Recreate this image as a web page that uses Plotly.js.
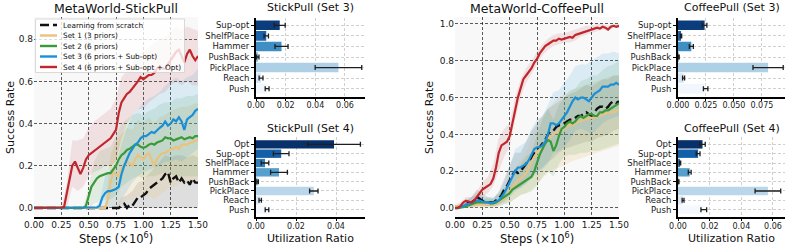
<!DOCTYPE html>
<html>
<head>
<meta charset="utf-8">
<script src="https://cdn.plot.ly/plotly-3.0.1.min.js"></script>
<style>html,body{margin:0;padding:0;background:#fff;}#chart{width:789px;height:248px;}</style>
</head>
<body>
<div id="chart"></div>
<script>
// ---------- DATA ----------
const seriesNames = ['Learning from scratch', 'Set 1 (3 priors)', 'Set 2 (6 priors)', 'Set 3 (6 priors + Sub-opt)', 'Set 4 (6 priors + Sub-opt + Opt)'];

const steps = [0,0.025,0.05,0.075,0.1,0.125,0.15,0.175,0.2,0.225,0.25,0.275,0.3,0.325,0.35,0.375,0.4,0.425,0.45,0.475,0.5,0.525,0.55,0.575,0.6,0.625,0.65,0.675,0.7,0.725,0.75,0.775,0.8,0.825,0.85,0.875,0.9,0.925,0.95,0.975,1.0,1.025,1.05,1.075,1.1,1.125,1.15,1.175,1.2,1.225,1.25,1.275,1.3,1.325,1.35,1.375,1.4,1.425,1.45,1.475,1.5];
const bandSteps = [0,0.05,0.1,0.15,0.2,0.25,0.3,0.35,0.4,0.45,0.5,0.55,0.6,0.65,0.7,0.75,0.8,0.85,0.9,0.95,1.0,1.05,1.1,1.15,1.2,1.25,1.3,1.35,1.4,1.45,1.5];

// StickPull mean curves
const stickScratch = [0,0,0,0,0,0,0,0,0,0,0,0,0,0,0,0,0,0,0,0,0,0,0,0,0,0,0,0,0,0,0,0,0.01,0.02,0.0,0.015,0.01,0.03,0.05,0.05,0.06,0.07,0.09,0.1,0.11,0.12,0.13,0.14,0.16,0.17,0.12,0.14,0.15,0.12,0.14,0.12,0.13,0.11,0.14,0.12,0.12];
const stickSet1 = [0,0,0,0,0,0,0,0,0,0,0,0,0,0,0,0,0,0,0,0,0,0,0,0,0,0,0,0.04,0.12,0.17,0.16,0.15,0.19,0.2,0.22,0.21,0.2,0.23,0.25,0.24,0.23,0.25,0.26,0.23,0.2,0.23,0.25,0.26,0.26,0.27,0.28,0.28,0.29,0.28,0.3,0.3,0.3,0.31,0.31,0.32,0.32];
const stickSet2 = [0,0,0,0,0,0,0,0,0,0,0,0,0,0,0,0,0,0,0,0.01,0.05,0.1,0.12,0.14,0.15,0.155,0.16,0.165,0.165,0.18,0.2,0.23,0.25,0.26,0.275,0.28,0.29,0.3,0.3,0.29,0.285,0.29,0.3,0.305,0.3,0.31,0.315,0.32,0.335,0.33,0.33,0.32,0.325,0.33,0.335,0.325,0.33,0.335,0.33,0.34,0.34];
const stickSet3 = [0,0,0,0,0,0,0,0,0,0,0,0,0,0,0,0,0,0,0,0,0,0,0,0.002,0.01,0.05,0.07,0.08,0.08,0.085,0.09,0.1,0.16,0.2,0.23,0.26,0.28,0.3,0.31,0.33,0.34,0.34,0.35,0.36,0.355,0.37,0.38,0.39,0.41,0.39,0.4,0.42,0.41,0.43,0.41,0.37,0.42,0.43,0.44,0.46,0.47];
const stickSet4 = [0,0,0,0.002,0.001,0,0.002,0.002,0.001,0,0.002,0.004,0.07,0.15,0.2,0.22,0.19,0.16,0.19,0.23,0.25,0.26,0.27,0.28,0.29,0.3,0.31,0.32,0.33,0.35,0.37,0.45,0.5,0.52,0.54,0.55,0.565,0.58,0.6,0.62,0.61,0.62,0.63,0.63,0.64,0.66,0.67,0.66,0.66,0.68,0.7,0.72,0.74,0.75,0.72,0.69,0.73,0.75,0.72,0.7,0.72];

// StickPull bands (lower / upper)
const stickScratchLo = [0,0,0,0,0,0,0,0,0,0,0,0,0,0,0,0,0,0,0,0,0,0,0,0,0,0,0,0,0,0,0];
const stickScratchHi = [0,0,0,0,0,0,0,0,0,0,0,0,0,0,0,0,0.05,0.06,0.08,0.12,0.13,0.16,0.19,0.22,0.25,0.24,0.25,0.25,0.24,0.25,0.24];
const stickSet1Lo = [0,0,0,0,0,0,0,0,0,0,0,0,0,0,0,0,0.02,0.04,0.04,0.06,0.05,0.06,0.04,0.06,0.08,0.1,0.1,0.12,0.12,0.13,0.14];
const stickSet1Hi = [0,0,0,0,0,0,0,0,0,0,0,0,0,0,0.25,0.32,0.35,0.38,0.37,0.42,0.4,0.43,0.4,0.43,0.44,0.46,0.47,0.48,0.48,0.49,0.5];
const stickSet2Lo = [0,0,0,0,0,0,0,0,0,0,0,0.02,0.03,0.04,0.04,0.06,0.1,0.12,0.14,0.15,0.14,0.15,0.15,0.16,0.17,0.16,0.15,0.15,0.15,0.15,0.15];
const stickSet2Hi = [0,0,0,0,0,0,0,0,0,0,0.1,0.22,0.27,0.28,0.29,0.34,0.4,0.42,0.44,0.45,0.44,0.46,0.47,0.49,0.5,0.5,0.52,0.52,0.53,0.53,0.54];
const stickSet3Lo = [0,0,0,0,0,0,0,0,0,0,0,0,0,0,0,0,0.04,0.08,0.12,0.15,0.17,0.18,0.19,0.2,0.22,0.22,0.23,0.22,0.24,0.26,0.28];
const stickSet3Hi = [0,0,0,0,0,0,0,0,0,0,0,0,0.03,0.15,0.18,0.2,0.3,0.38,0.44,0.47,0.5,0.52,0.53,0.55,0.58,0.6,0.62,0.6,0.62,0.63,0.66];
const stickSet4Lo = [0,0,0,0,0,0,0,0.1,0.08,0.1,0.15,0.17,0.18,0.2,0.2,0.22,0.33,0.4,0.44,0.47,0.47,0.5,0.52,0.54,0.55,0.58,0.6,0.58,0.6,0.58,0.58];
const stickSet4Hi = [0,0,0,0,0,0,0.12,0.32,0.32,0.33,0.38,0.41,0.43,0.45,0.47,0.52,0.62,0.65,0.69,0.72,0.74,0.76,0.78,0.8,0.81,0.83,0.86,0.84,0.86,0.85,0.84];

// CoffeePull mean curves
const coffeeScratch = [0,0,0.005,0.01,0.02,0.03,0.03,0.04,0.06,0.05,0.04,0.03,0.03,0.03,0.03,0.04,0.05,0.07,0.1,0.12,0.15,0.18,0.2,0.19,0.2,0.22,0.24,0.26,0.27,0.3,0.32,0.33,0.35,0.37,0.4,0.42,0.42,0.44,0.45,0.45,0.46,0.47,0.48,0.48,0.49,0.5,0.5,0.51,0.52,0.51,0.5,0.52,0.54,0.55,0.55,0.54,0.55,0.57,0.58,0.57,0.58];
const coffeeSet1 = [0.01,0.01,0.01,0.01,0.015,0.02,0.02,0.02,0.02,0.02,0.02,0.02,0.02,0.02,0.02,0.025,0.03,0.04,0.05,0.07,0.09,0.11,0.13,0.15,0.16,0.17,0.19,0.22,0.25,0.28,0.3,0.32,0.34,0.36,0.37,0.39,0.4,0.41,0.42,0.43,0.43,0.44,0.45,0.45,0.46,0.47,0.47,0.48,0.48,0.49,0.49,0.49,0.5,0.5,0.51,0.51,0.52,0.52,0.52,0.53,0.53];
const coffeeSet2 = [0,0,0.003,0.005,0.01,0.015,0.02,0.025,0.03,0.03,0.03,0.03,0.03,0.025,0.025,0.03,0.04,0.05,0.06,0.07,0.08,0.1,0.11,0.12,0.13,0.14,0.15,0.16,0.17,0.2,0.25,0.29,0.32,0.35,0.37,0.36,0.31,0.34,0.39,0.43,0.44,0.46,0.47,0.46,0.47,0.49,0.5,0.49,0.5,0.51,0.51,0.5,0.5,0.52,0.52,0.53,0.53,0.54,0.55,0.56,0.57];
const coffeeSet3 = [0,0,0.005,0.01,0.02,0.02,0.03,0.035,0.04,0.04,0.035,0.03,0.03,0.025,0.03,0.035,0.04,0.06,0.08,0.11,0.14,0.17,0.2,0.22,0.22,0.23,0.24,0.26,0.29,0.32,0.33,0.33,0.34,0.36,0.4,0.46,0.46,0.45,0.46,0.48,0.5,0.52,0.55,0.58,0.6,0.59,0.6,0.6,0.59,0.58,0.6,0.62,0.63,0.64,0.66,0.66,0.66,0.67,0.67,0.68,0.67];
const coffeeSet4 = [0,0,0.01,0.03,0.04,0.035,0.03,0.04,0.06,0.08,0.1,0.11,0.12,0.13,0.16,0.22,0.3,0.34,0.35,0.36,0.39,0.46,0.54,0.6,0.65,0.7,0.72,0.74,0.76,0.79,0.81,0.84,0.86,0.88,0.89,0.9,0.91,0.91,0.92,0.915,0.92,0.925,0.93,0.925,0.94,0.945,0.95,0.955,0.96,0.965,0.97,0.975,0.98,0.975,0.985,0.98,0.97,0.985,0.99,0.985,0.99];

// CoffeePull bands (lower / upper)
const coffeeScratchLo = [0,0,0,0,0.01,0.01,0.01,0.01,0.02,0.04,0.07,0.1,0.11,0.14,0.17,0.2,0.22,0.25,0.27,0.3,0.32,0.33,0.34,0.35,0.36,0.36,0.38,0.39,0.4,0.42,0.43];
const coffeeScratchHi = [0.01,0.02,0.04,0.06,0.1,0.08,0.06,0.05,0.09,0.16,0.23,0.3,0.3,0.36,0.42,0.46,0.5,0.54,0.56,0.58,0.6,0.62,0.63,0.65,0.67,0.66,0.68,0.7,0.7,0.72,0.72];
const coffeeSet1Lo = [0,0,0,0,0,0,0,0,0.01,0.02,0.03,0.05,0.07,0.08,0.1,0.13,0.16,0.19,0.21,0.22,0.23,0.25,0.26,0.27,0.28,0.29,0.3,0.31,0.32,0.33,0.34];
const coffeeSet1Hi = [0.02,0.03,0.04,0.04,0.04,0.04,0.04,0.04,0.05,0.08,0.15,0.22,0.26,0.3,0.38,0.45,0.5,0.54,0.57,0.6,0.62,0.63,0.65,0.66,0.67,0.68,0.69,0.7,0.71,0.72,0.72];
const coffeeSet2Lo = [0,0,0,0.01,0.01,0.01,0.01,0.01,0.01,0.02,0.03,0.05,0.07,0.08,0.09,0.12,0.17,0.2,0.17,0.24,0.28,0.29,0.29,0.3,0.3,0.31,0.31,0.32,0.33,0.34,0.35];
const coffeeSet2Hi = [0.01,0.01,0.02,0.04,0.05,0.05,0.05,0.05,0.08,0.11,0.14,0.2,0.24,0.28,0.3,0.4,0.48,0.54,0.48,0.56,0.6,0.64,0.65,0.69,0.7,0.72,0.72,0.75,0.77,0.78,0.8];
const coffeeSet3Lo = [0,0,0.01,0.01,0.02,0.02,0.01,0.01,0.02,0.03,0.06,0.09,0.11,0.13,0.16,0.19,0.21,0.24,0.3,0.31,0.33,0.37,0.42,0.43,0.42,0.4,0.43,0.46,0.48,0.49,0.5];
const coffeeSet3Hi = [0.01,0.02,0.04,0.06,0.07,0.06,0.06,0.06,0.08,0.14,0.23,0.32,0.34,0.36,0.43,0.48,0.5,0.56,0.63,0.64,0.68,0.72,0.77,0.78,0.78,0.8,0.82,0.84,0.84,0.85,0.84];
const coffeeSet4Lo = [0,0,0.02,0.01,0.03,0.06,0.08,0.12,0.2,0.28,0.33,0.48,0.6,0.68,0.73,0.78,0.83,0.86,0.88,0.89,0.9,0.9,0.91,0.93,0.94,0.95,0.96,0.97,0.96,0.98,0.98];
const coffeeSet4Hi = [0.01,0.03,0.06,0.06,0.09,0.14,0.17,0.24,0.38,0.43,0.46,0.6,0.7,0.76,0.8,0.85,0.89,0.92,0.94,0.95,0.95,0.96,0.97,0.98,0.99,0.99,1.0,1.0,0.99,1.0,1.0];

// Utilization bars
const set3Priors = ['Sup-opt', 'ShelfPlace', 'Hammer', 'PushBack', 'PickPlace', 'Reach', 'Push'];
const set4Priors = ['Opt', 'Sup-opt', 'ShelfPlace', 'Hammer', 'PushBack', 'PickPlace', 'Reach', 'Push'];
const stickSet3Util = [0.016, 0.0069, 0.0172, 0.0012, 0.0556, 0.0034, 0.0075];
const stickSet3Err  = [0.0037, 0.0015, 0.0044, 0.0008, 0.0157, 0.0013, 0.0013];
const stickSet4Util = [0.039, 0.0126, 0.0045, 0.0115, 0.0008, 0.0289, 0.0021, 0.0055];
const stickSet4Err  = [0.0132, 0.0039, 0.0019, 0.0042, 0.0004, 0.0021, 0.0006, 0.0009];
const coffeeSet3Util = [0.0238, 0.0027, 0.0119, 0.0008, 0.0805, 0.005, 0.0247];
const coffeeSet3Err  = [0.0020, 0.0006, 0.0018, 0.0003, 0.0135, 0.0009, 0.0020];
const coffeeSet4Util = [0.0155, 0.0127, 0.0013, 0.0074, 0.0004, 0.0568, 0.0032, 0.0163];
const coffeeSet4Err  = [0.0017, 0.0012, 0.0004, 0.0009, 0.0002, 0.0081, 0.0006, 0.0018];

// ---------- STYLE ----------
const FONT = 'DejaVu Sans, Liberation Sans, sans-serif';
const lineColors = ['#111111', '#eac27f', '#3a9a3a', '#1a8fd8', '#c0272d'];
const bandColors = ['rgba(0,0,0,0.10)', 'rgba(234,194,127,0.22)', 'rgba(58,154,58,0.13)', 'rgba(26,143,216,0.13)', 'rgba(192,39,45,0.11)'];
const set3Colors = ['#0b3c7b', '#1a62aa', '#3f8fc5', '#74b3d8', '#aed0e7', '#d8e7f5', '#f1f7fd'];
const set4Colors = ['#08306b', '#1460a8', '#2f7ebc', '#56a0cd', '#8cbfdd', '#bad6eb', '#dbe9f6', '#f5f9fe'];

const W = 789, H = 248;
const px = v => v / W;
const py = v => 1 - v / H;

function bandTrace(lo, hi, color, xa, ya) {
  return {
    x: bandSteps.concat(bandSteps.slice().reverse()),
    y: hi.concat(lo.slice().reverse()),
    type: 'scatter', mode: 'lines', fill: 'toself', fillcolor: color,
    line: {width: 0, color: color}, hoverinfo: 'skip', showlegend: false,
    xaxis: xa, yaxis: ya
  };
}
function lineTrace(ys, i, xa, ya) {
  return {
    x: steps, y: ys, type: 'scatter', mode: 'lines', name: seriesNames[i],
    line: {color: lineColors[i], width: i === 0 ? 2.4 : 2.2, dash: i === 0 ? '9px,4px' : 'solid'},
    showlegend: false, xaxis: xa, yaxis: ya
  };
}
function barTrace(labels, vals, errs, colors, xa, ya) {
  return {
    type: 'bar', orientation: 'h', y: labels, x: vals,
    marker: {color: colors, line: {width: 0}},
    error_x: {type: 'data', array: errs, visible: true, color: '#1e1e1e', thickness: 1.3, width: 2.5},
    showlegend: false, xaxis: xa, yaxis: ya
  };
}

const stickMeans = [stickScratch, stickSet1, stickSet2, stickSet3, stickSet4];
const stickLos = [stickScratchLo, stickSet1Lo, stickSet2Lo, stickSet3Lo, stickSet4Lo];
const stickHis = [stickScratchHi, stickSet1Hi, stickSet2Hi, stickSet3Hi, stickSet4Hi];
const coffeeMeans = [coffeeScratch, coffeeSet1, coffeeSet2, coffeeSet3, coffeeSet4];
const coffeeLos = [coffeeScratchLo, coffeeSet1Lo, coffeeSet2Lo, coffeeSet3Lo, coffeeSet4Lo];
const coffeeHis = [coffeeScratchHi, coffeeSet1Hi, coffeeSet2Hi, coffeeSet3Hi, coffeeSet4Hi];

const data = [];
for (let i = 0; i < 5; i++) data.push(bandTrace(stickLos[i], stickHis[i], bandColors[i], 'x', 'y'));
for (let i = 0; i < 5; i++) data.push(lineTrace(stickMeans[i], i, 'x', 'y'));
for (let i = 0; i < 5; i++) data.push(bandTrace(coffeeLos[i], coffeeHis[i], bandColors[i], 'x4', 'y4'));
for (let i = 0; i < 5; i++) data.push(lineTrace(coffeeMeans[i], i, 'x4', 'y4'));
data.push(barTrace(set3Priors, stickSet3Util, stickSet3Err, set3Colors, 'x2', 'y2'));
data.push(barTrace(set4Priors, stickSet4Util, stickSet4Err, set4Colors, 'x3', 'y3'));
data.push(barTrace(set3Priors, coffeeSet3Util, coffeeSet3Err, set3Colors, 'x5', 'y5'));
data.push(barTrace(set4Priors, coffeeSet4Util, coffeeSet4Err, set4Colors, 'x6', 'y6'));

const lineTickFont = {family: FONT, size: 9, color: '#1a1a1a'};
const barXTickFont = {family: FONT, size: 8, color: '#1a1a1a'};
const barYTickFont = {family: FONT, size: 8.5, color: '#1a1a1a'};
const lineGrid = {showgrid: true, gridcolor: 'rgba(0,0,0,0.8)', gridwidth: 0.8, griddash: '3px,2px', zeroline: false};
const barGrid = {showgrid: true, gridcolor: '#c4c4c4', gridwidth: 0.8, griddash: '3px,2px', zeroline: false};

const lineXDomA = [px(34), px(198)], lineXDomB = [px(455), px(619)];
const lineYDom = [py(217), py(17)];
const barXDomA = [px(256), px(365)], barXDomB = [px(678), px(785)];
const barYDomTop = [py(96.5), py(17.5)], barYDomBot = [py(217), py(137)];

function lineX(dom, anchor) {
  return Object.assign({domain: dom, anchor: anchor, range: [0, 1.5], dtick: 0.25, tick0: 0, tickformat: '.2f', tickangle: 0,
    showline: true, linecolor: '#000', linewidth: 2.2, ticks: '', ticklabelstandoff: -2, tickfont: lineTickFont}, lineGrid);
}
function lineY(dom, anchor, range, dtick) {
  return Object.assign({domain: dom, anchor: anchor, range: range, dtick: dtick, tick0: 0, tickformat: '.1f',
    showline: false, ticks: '', tickfont: lineTickFont}, lineGrid);
}
function barX(dom, anchor, range, dtick, fmt) {
  return Object.assign({domain: dom, anchor: anchor, range: range, dtick: dtick, tick0: 0, tickformat: fmt, tickangle: 0,
    showline: true, linecolor: '#000', linewidth: 2, ticks: 'outside', ticklen: 2, tickcolor: '#000', ticklabelstandoff: -2, tickfont: barXTickFont}, barGrid);
}
function barY(dom, anchor, cats, range) {
  return Object.assign({domain: dom, anchor: anchor, type: 'category', categoryorder: 'array', categoryarray: cats, range: range,
    tickmode: 'array', tickvals: cats, ticktext: cats,
    showline: true, linecolor: '#000', linewidth: 2, ticks: 'outside', ticklen: 3, tickcolor: '#000', tickfont: barYTickFont}, barGrid);
}

const annotations = [];
function ann(text, x, y, size, extra) {
  annotations.push(Object.assign({text: text, x: px(x), y: py(y), xref: 'paper', yref: 'paper', showarrow: false,
    xanchor: 'center', yanchor: 'middle', font: {family: FONT, size: size, color: '#111'}}, extra || {}));
}
ann('MetaWorld-StickPull', 116, 8.5, 12.5);
ann('MetaWorld-CoffeePull', 537, 8.5, 12.5);
ann('StickPull (Set 3)', 310.5, 8, 11);
ann('StickPull (Set 4)', 310.5, 128.5, 11);
ann('CoffeePull (Set 3)', 731.5, 8, 11);
ann('CoffeePull (Set 4)', 731.5, 128.5, 11);
ann('Success Rate', 10, 118, 11, {textangle: -90});
ann('Success Rate', 429, 118, 11, {textangle: -90});
ann('Steps (×10<sup>6</sup>)', 116, 238, 11.5);
ann('Steps (×10<sup>6</sup>)', 537, 238, 11.5);
ann('Utilization Ratio', 310.5, 238.5, 11);
ann('Utilization Ratio', 731.5, 238.5, 11);

// manual legend for the StickPull panel
const shapes = [
  {type: 'rect', xref: 'x domain', yref: 'y domain', x0: 0, x1: 1, y0: 0, y1: 1, fillcolor: '#f8f8f8', line: {width: 0}, layer: 'below'},
  {type: 'rect', xref: 'x4 domain', yref: 'y4 domain', x0: 0, x1: 1, y0: 0, y1: 1, fillcolor: '#f8f8f8', line: {width: 0}, layer: 'below'},
  {type: 'rect', xref: 'paper', yref: 'paper', x0: px(35.5), x1: px(184.5), y0: py(72.5), y1: py(19), fillcolor: 'rgba(255,255,255,0.8)', line: {color: '#d0d0d0', width: 0.8}, layer: 'above'}
];
const legendRows = [25, 35.5, 46, 56.5, 67];
for (let i = 0; i < 5; i++) {
  shapes.push({type: 'line', xref: 'paper', yref: 'paper', x0: px(40), x1: px(57), y0: py(legendRows[i]), y1: py(legendRows[i]),
    line: {color: lineColors[i], width: 2.4, dash: i === 0 ? '9px,4px' : 'solid'}, layer: 'above'});
  ann(seriesNames[i], 61, legendRows[i], 7.3, {xanchor: 'left'});
}

const layout = {
  width: W, height: H, margin: {l: 0, r: 0, t: 0, b: 0},
  paper_bgcolor: '#ffffff', plot_bgcolor: 'rgba(0,0,0,0)',
  showlegend: false, hovermode: false, bargap: 0.1,
  font: {family: FONT, size: 10, color: '#111'},
  xaxis: lineX(lineXDomA, 'y'),
  yaxis: lineY(lineYDom, 'x', [-0.043, 0.905], 0.2),
  xaxis2: barX(barXDomA, 'y2', [0, 0.0735], 0.02, '.2f'),
  yaxis2: barY(barYDomTop, 'x2', set3Priors, [6.74, -0.74]),
  xaxis3: barX(barXDomA, 'y3', [0, 0.0545], 0.02, '.2f'),
  yaxis3: barY(barYDomBot, 'x3', set4Priors, [7.79, -0.79]),
  xaxis4: lineX(lineXDomB, 'y4'),
  yaxis4: lineY(lineYDom, 'x4', [-0.049, 1.038], 0.2),
  xaxis5: barX(barXDomB, 'y5', [0, 0.0956], 0.025, '.3f'),
  yaxis5: barY(barYDomTop, 'x5', set3Priors, [6.74, -0.74]),
  xaxis6: barX(barXDomB, 'y6', [0, 0.0676], 0.02, '.2f'),
  yaxis6: barY(barYDomBot, 'x6', set4Priors, [7.79, -0.79]),
  annotations: annotations,
  shapes: shapes
};

Plotly.newPlot('chart', data, layout, {staticPlot: true, displayModeBar: false});
</script>
</body>
</html>
